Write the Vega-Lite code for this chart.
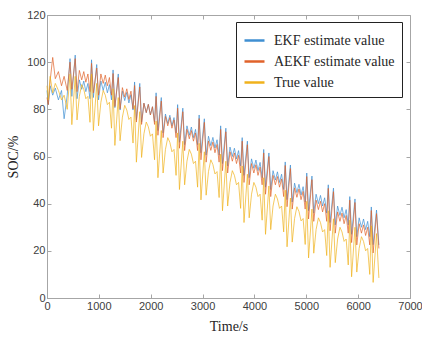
{
  "$schema": "https://vega.github.io/schema/vega-lite/v6.json",
  "width": 363,
  "height": 283,
  "autosize": "none",
  "padding": {"left": 47, "top": 15, "right": 12, "bottom": 43},
  "background": "white",
  "config": {
    "view": {"stroke": "#a6a6a6", "strokeWidth": 1},
    "axis": {"grid": false, "domainColor": "#a6a6a6", "tickColor": "#a6a6a6", "labelFont": "Liberation Sans", "labelFontSize": 11, "labelColor": "#404040", "titleFont": "Liberation Serif", "titleFontSize": 14, "titleFontWeight": "normal", "titleColor": "#262626"}
  },
  "data": {"values": [
    {"t":0,"EKF":88,"AEKF":85,"True":90},
    {"t":25,"EKF":82,"AEKF":82,"True":84},
    {"t":60,"EKF":90,"AEKF":92,"True":94},
    {"t":110,"EKF":86,"AEKF":102,"True":87},
    {"t":160,"EKF":89,"AEKF":93,"True":91},
    {"t":220,"EKF":84,"AEKF":96,"True":88},
    {"t":280,"EKF":88,"AEKF":90,"True":84},
    {"t":330,"EKF":76,"AEKF":94,"True":86},
    {"t":390,"EKF":86,"AEKF":88,"True":80},
    {"t":444,"EKF":101.5,"AEKF":100,"True":95},
    {"t":479,"EKF":85.5,"AEKF":88.5,"True":73.5},
    {"t":544,"EKF":103,"AEKF":101.5,"True":94},
    {"t":579,"EKF":84.5,"AEKF":87.5,"True":75.5},
    {"t":624,"EKF":92.5,"AEKF":96.5,"True":85.5},
    {"t":669,"EKF":88.5,"AEKF":92.5,"True":90.5},
    {"t":709,"EKF":92,"AEKF":96,"True":88.5},
    {"t":749,"EKF":87.5,"AEKF":91.5,"True":84.5},
    {"t":789,"EKF":91,"AEKF":95,"True":85.5},
    {"t":829,"EKF":84.5,"AEKF":87.5,"True":74.5},
    {"t":859,"EKF":101,"AEKF":99.5,"True":95},
    {"t":894,"EKF":85,"AEKF":87,"True":71},
    {"t":959,"EKF":99,"AEKF":97.5,"True":91},
    {"t":994,"EKF":84,"AEKF":86,"True":73},
    {"t":1039,"EKF":92,"AEKF":95,"True":83},
    {"t":1084,"EKF":88,"AEKF":91,"True":88},
    {"t":1124,"EKF":91.5,"AEKF":94.5,"True":86},
    {"t":1164,"EKF":87,"AEKF":90,"True":82},
    {"t":1204,"EKF":90.5,"AEKF":93.5,"True":83},
    {"t":1244,"EKF":84,"AEKF":86,"True":72},
    {"t":1274,"EKF":96.7,"AEKF":95.2,"True":88.7},
    {"t":1309,"EKF":80.7,"AEKF":81.2,"True":64.7},
    {"t":1374,"EKF":95,"AEKF":93.5,"True":85},
    {"t":1409,"EKF":79.7,"AEKF":80.2,"True":66.7},
    {"t":1454,"EKF":87.7,"AEKF":89.2,"True":76.7},
    {"t":1499,"EKF":83.7,"AEKF":85.2,"True":81.7},
    {"t":1539,"EKF":87.2,"AEKF":88.7,"True":79.7},
    {"t":1579,"EKF":82.7,"AEKF":84.2,"True":75.7},
    {"t":1619,"EKF":86.2,"AEKF":87.7,"True":76.7},
    {"t":1659,"EKF":79.7,"AEKF":80.2,"True":65.7},
    {"t":1689,"EKF":91.6,"AEKF":90.1,"True":81.6},
    {"t":1724,"EKF":75.6,"AEKF":74.6,"True":57.6},
    {"t":1789,"EKF":91,"AEKF":89.5,"True":79},
    {"t":1824,"EKF":74.6,"AEKF":73.6,"True":59.6},
    {"t":1869,"EKF":82.6,"AEKF":82.6,"True":69.6},
    {"t":1914,"EKF":78.6,"AEKF":78.6,"True":74.6},
    {"t":1954,"EKF":82.1,"AEKF":82.1,"True":72.6},
    {"t":1994,"EKF":77.6,"AEKF":77.6,"True":68.6},
    {"t":2034,"EKF":81.1,"AEKF":81.1,"True":69.6},
    {"t":2074,"EKF":74.6,"AEKF":73.6,"True":58.6},
    {"t":2104,"EKF":87,"AEKF":85.5,"True":75},
    {"t":2139,"EKF":71,"AEKF":69,"True":51},
    {"t":2204,"EKF":85,"AEKF":83.5,"True":71},
    {"t":2239,"EKF":70,"AEKF":68,"True":53},
    {"t":2284,"EKF":78,"AEKF":77,"True":63},
    {"t":2329,"EKF":74,"AEKF":73,"True":68},
    {"t":2369,"EKF":77.5,"AEKF":76.5,"True":66},
    {"t":2409,"EKF":73,"AEKF":72,"True":62},
    {"t":2449,"EKF":76.5,"AEKF":75.5,"True":63},
    {"t":2489,"EKF":70,"AEKF":68,"True":52},
    {"t":2519,"EKF":82,"AEKF":80.5,"True":70},
    {"t":2554,"EKF":66,"AEKF":63.5,"True":46},
    {"t":2619,"EKF":80.5,"AEKF":79,"True":66.5},
    {"t":2654,"EKF":65,"AEKF":62.5,"True":48},
    {"t":2699,"EKF":73,"AEKF":71.5,"True":58},
    {"t":2744,"EKF":69,"AEKF":67.5,"True":63},
    {"t":2784,"EKF":72.5,"AEKF":71,"True":61},
    {"t":2824,"EKF":68,"AEKF":66.5,"True":57},
    {"t":2864,"EKF":71.5,"AEKF":70,"True":58},
    {"t":2904,"EKF":65,"AEKF":62.5,"True":47},
    {"t":2934,"EKF":77.6,"AEKF":76.1,"True":65.6},
    {"t":2969,"EKF":61.6,"AEKF":58.6,"True":41.6},
    {"t":3034,"EKF":76,"AEKF":74.5,"True":62},
    {"t":3069,"EKF":60.6,"AEKF":57.6,"True":43.6},
    {"t":3114,"EKF":68.6,"AEKF":66.6,"True":53.6},
    {"t":3159,"EKF":64.6,"AEKF":62.6,"True":58.6},
    {"t":3199,"EKF":68.1,"AEKF":66.1,"True":56.6},
    {"t":3239,"EKF":63.6,"AEKF":61.6,"True":52.6},
    {"t":3279,"EKF":67.1,"AEKF":65.1,"True":53.6},
    {"t":3319,"EKF":60.6,"AEKF":57.6,"True":42.6},
    {"t":3349,"EKF":73,"AEKF":71.5,"True":61},
    {"t":3384,"EKF":57,"AEKF":54,"True":37},
    {"t":3449,"EKF":72,"AEKF":70.5,"True":58},
    {"t":3484,"EKF":56,"AEKF":53,"True":39},
    {"t":3529,"EKF":64,"AEKF":62,"True":49},
    {"t":3574,"EKF":60,"AEKF":58,"True":54},
    {"t":3614,"EKF":63.5,"AEKF":61.5,"True":52},
    {"t":3654,"EKF":59,"AEKF":57,"True":48},
    {"t":3694,"EKF":62.5,"AEKF":60.5,"True":49},
    {"t":3734,"EKF":56,"AEKF":53,"True":38},
    {"t":3764,"EKF":68,"AEKF":66.5,"True":56},
    {"t":3799,"EKF":52,"AEKF":49,"True":32},
    {"t":3864,"EKF":66.5,"AEKF":65,"True":52.5},
    {"t":3899,"EKF":51,"AEKF":48,"True":34},
    {"t":3944,"EKF":59,"AEKF":57,"True":44},
    {"t":3989,"EKF":55,"AEKF":53,"True":49},
    {"t":4029,"EKF":58.5,"AEKF":56.5,"True":47},
    {"t":4069,"EKF":54,"AEKF":52,"True":43},
    {"t":4109,"EKF":57.5,"AEKF":55.5,"True":44},
    {"t":4149,"EKF":51,"AEKF":48,"True":33},
    {"t":4179,"EKF":63,"AEKF":61.5,"True":51},
    {"t":4214,"EKF":47,"AEKF":44,"True":27},
    {"t":4279,"EKF":61.5,"AEKF":60,"True":47.5},
    {"t":4314,"EKF":46,"AEKF":43,"True":29},
    {"t":4359,"EKF":54,"AEKF":52,"True":39},
    {"t":4404,"EKF":50,"AEKF":48,"True":44},
    {"t":4444,"EKF":53.5,"AEKF":51.5,"True":42},
    {"t":4484,"EKF":49,"AEKF":47,"True":38},
    {"t":4524,"EKF":52.5,"AEKF":50.5,"True":39},
    {"t":4564,"EKF":46,"AEKF":43,"True":28},
    {"t":4594,"EKF":57.7,"AEKF":56.2,"True":45.7},
    {"t":4629,"EKF":41.7,"AEKF":38.7,"True":21.7},
    {"t":4694,"EKF":56.4,"AEKF":54.9,"True":42.4},
    {"t":4729,"EKF":40.7,"AEKF":37.7,"True":23.7},
    {"t":4774,"EKF":48.7,"AEKF":46.7,"True":33.7},
    {"t":4819,"EKF":44.7,"AEKF":42.7,"True":38.7},
    {"t":4859,"EKF":48.2,"AEKF":46.2,"True":36.7},
    {"t":4899,"EKF":43.7,"AEKF":41.7,"True":32.7},
    {"t":4939,"EKF":47.2,"AEKF":45.2,"True":33.7},
    {"t":4979,"EKF":40.7,"AEKF":37.7,"True":22.7},
    {"t":5009,"EKF":53,"AEKF":51.5,"True":41},
    {"t":5044,"EKF":37,"AEKF":33.5,"True":17},
    {"t":5109,"EKF":51.7,"AEKF":50.2,"True":37.7},
    {"t":5144,"EKF":36,"AEKF":32.5,"True":19},
    {"t":5189,"EKF":44,"AEKF":41.5,"True":29},
    {"t":5234,"EKF":40,"AEKF":37.5,"True":34},
    {"t":5274,"EKF":43.5,"AEKF":41,"True":32},
    {"t":5314,"EKF":39,"AEKF":36.5,"True":28},
    {"t":5354,"EKF":42.5,"AEKF":40,"True":29},
    {"t":5394,"EKF":36,"AEKF":32.5,"True":18},
    {"t":5424,"EKF":48,"AEKF":46.5,"True":37},
    {"t":5459,"EKF":32,"AEKF":28.5,"True":13},
    {"t":5524,"EKF":46.6,"AEKF":45.1,"True":33.6},
    {"t":5559,"EKF":31,"AEKF":27.5,"True":15},
    {"t":5604,"EKF":39,"AEKF":36.5,"True":25},
    {"t":5649,"EKF":35,"AEKF":32.5,"True":30},
    {"t":5689,"EKF":38.5,"AEKF":36,"True":28},
    {"t":5729,"EKF":34,"AEKF":31.5,"True":24},
    {"t":5769,"EKF":37.5,"AEKF":35,"True":25},
    {"t":5809,"EKF":31,"AEKF":27.5,"True":14},
    {"t":5839,"EKF":43,"AEKF":41.5,"True":33},
    {"t":5874,"EKF":27,"AEKF":23.5,"True":9},
    {"t":5939,"EKF":42,"AEKF":40.5,"True":30},
    {"t":5974,"EKF":26,"AEKF":22.5,"True":11},
    {"t":6019,"EKF":34,"AEKF":31.5,"True":21},
    {"t":6064,"EKF":30,"AEKF":27.5,"True":26},
    {"t":6104,"EKF":33.5,"AEKF":31,"True":24},
    {"t":6144,"EKF":29,"AEKF":26.5,"True":20},
    {"t":6184,"EKF":32.5,"AEKF":30,"True":21},
    {"t":6224,"EKF":26,"AEKF":22.5,"True":10},
    {"t":6254,"EKF":38.6,"AEKF":37.1,"True":30.6},
    {"t":6289,"EKF":22.6,"AEKF":19.1,"True":6.6},
    {"t":6354,"EKF":37.3,"AEKF":35.8,"True":27.3},
    {"t":6400,"EKF":22.5,"AEKF":21,"True":8.5}
  ]},
  "transform": [{"fold": ["EKF", "AEKF", "True"], "as": ["series", "soc"]}],
  "layer": [
    {
      "mark": {"type": "line", "strokeWidth": 1, "opacity": 0.7},
      "encoding": {
        "x": {"field": "t", "type": "quantitative", "scale": {"domain": [0, 7000], "nice": false}, "axis": {"orient": "bottom", "title": "Time/s", "format": "d", "values": [0,1000,2000,3000,4000,5000,6000,7000], "tickSize": -4, "labelPadding": 6, "titlePadding": 8, "labelFlush": false}},
        "y": {"field": "soc", "type": "quantitative", "scale": {"domain": [0, 120], "nice": false}, "axis": {"orient": "left", "title": "SOC/%", "format": "d", "values": [0,20,40,60,80,100,120], "tickSize": -4, "labelPadding": 6, "titlePadding": 6}},
        "color": {"field": "series", "type": "nominal", "scale": {"domain": ["EKF", "AEKF", "True"], "range": ["#3f8fd2", "#e0622a", "#f0b21c"]},
          "legend": {"orient": "none", "legendX": 189, "legendY": 7, "title": null, "labelExpr": "datum.label == 'EKF' ? 'EKF estimate value' : datum.label == 'AEKF' ? 'AEKF estimate value' : 'True value'", "labelFont": "Liberation Serif", "labelFontSize": 14, "labelColor": "#262626", "symbolType": "stroke", "symbolSize": 400, "symbolStrokeWidth": 2.5, "labelOffset": 8, "rowPadding": 2, "padding": 7, "strokeColor": "#222222", "fillColor": "white", "symbolOpacity": 1}}
      }
    },
    {
      "mark": {"type": "line", "opacity": 0},
      "encoding": {
        "x": {"field": "t", "type": "quantitative", "scale": {"domain": [0, 7000], "nice": false}, "axis": {"orient": "top", "title": null, "labels": false, "domain": false, "values": [0,1000,2000,3000,4000,5000,6000,7000], "tickSize": -4}},
        "y": {"field": "soc", "type": "quantitative", "scale": {"domain": [0, 120], "nice": false}, "axis": {"orient": "right", "title": null, "labels": false, "domain": false, "values": [0,20,40,60,80,100,120], "tickSize": -4}},
        "detail": {"field": "series"}
      }
    }
  ],
  "resolve": {"axis": {"x": "independent", "y": "independent"}}
}
